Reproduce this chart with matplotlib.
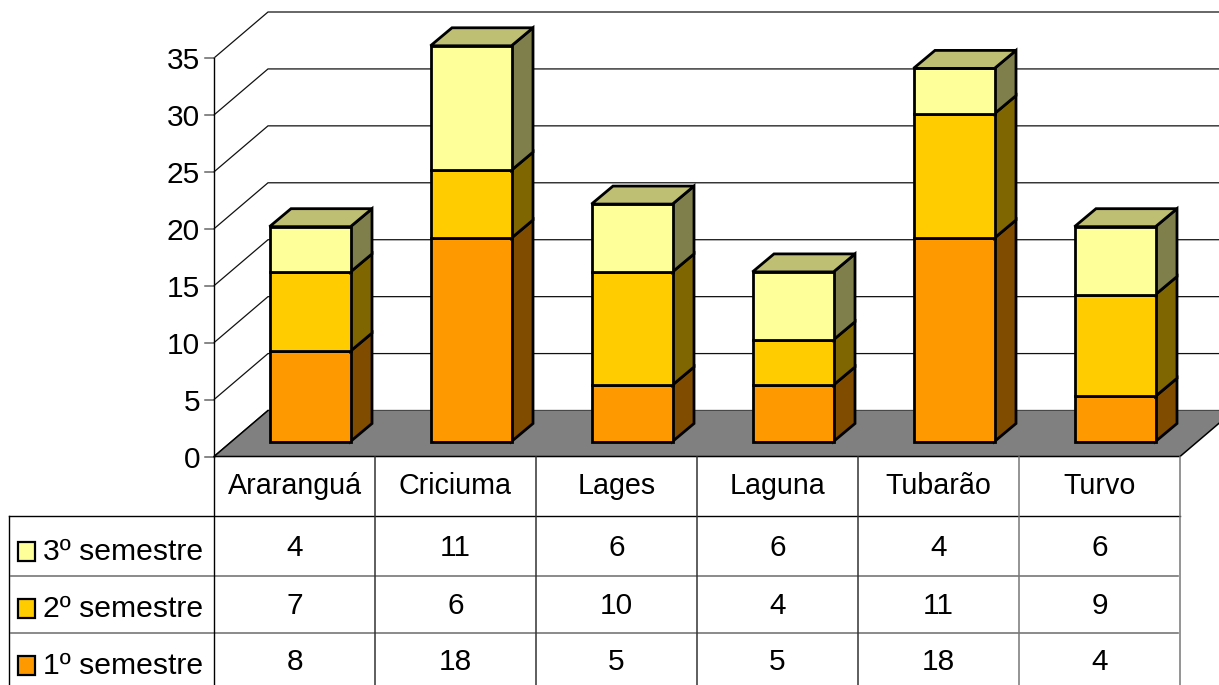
import matplotlib
matplotlib.use("Agg")
import matplotlib.pyplot as plt
from matplotlib.patches import Polygon, Rectangle

plt.rcParams['font.family'] = ['Liberation Sans', 'DejaVu Sans']

categories = ["Araranguá", "Criciuma", "Lages", "Laguna", "Tubarão", "Turvo"]
series_names = ["1º semestre", "2º semestre", "3º semestre"]
sem1 = [8, 18, 5, 5, 18, 4]
sem2 = [7, 6, 10, 4, 11, 9]
sem3 = [4, 11, 6, 6, 4, 6]
yticks = [0, 5, 10, 15, 20, 25, 30, 35]

W, H = 1219, 685
front = ["#FF9900", "#FFCC00", "#FFFF99"]
side = ["#7F4C00", "#7F6600", "#7F7F4C"]
top = ["#BF7300", "#BF9900", "#BFBF73"]

fig = plt.figure(figsize=(W / 100, H / 100), dpi=100, facecolor="white")
L, R, Y0, Y35 = 214, 1180, 456.5, 58
ax = fig.add_axes([L / W, 1 - Y0 / H, (R - L) / W, (Y0 - Y35) / H])
ax.set_xlim(0, 6)
ax.set_ylim(0, 35)
ax.axis("off")

CW = (R - L) / 6
UY = (Y0 - Y35) / 35
DX, DY = 54 / CW, 46 / UY            # full depth of the chart
BX, BY = 15.5 / CW, 15 / UY          # bar's front plane
BW = 81 / CW                         # bar width
BDX, BDY = 21.5 / CW, 18 / UY        # bar depth
BS = 0.993                           # slight vertical squeeze of the bars
XEND = 6 + 2 * DX

# grid + walls
for t in yticks:
    ax.plot([0, DX, XEND], [t, t + DY, t + DY], color="#111111", lw=0.9, clip_on=False, zorder=1,
            solid_joinstyle="miter")
    ax.plot([-9 / CW, 0], [t, t], color="#666666", lw=1.1, clip_on=False, zorder=1)
ax.add_patch(Polygon([(0, 0), (6, 0), (6 + DX, DY), (XEND, DY), (DX, DY)], closed=True,
                     facecolor="#808080", edgecolor="none", clip_on=False, zorder=2))
ax.plot([DX, 0, 6, 6 + DX], [DY, 0, 0, DY], color="black", lw=1.1, clip_on=False, zorder=3)
ax.plot([0, 0], [0, 35], color="black", lw=1.0, clip_on=False, zorder=3)

# stacked 3D bars
EC = dict(edgecolor="black", lw=2.0, joinstyle="miter", clip_on=False, zorder=5)
for i, vals in enumerate(zip(sem1, sem2, sem3)):
    x0 = i + (1 - BW) / 2 + BX
    x1 = x0 + BW
    base = 0
    for s, v in enumerate(vals):
        b, t = base * BS + BY, (base + v) * BS + BY
        ax.add_patch(Polygon([(x1, b), (x1 + BDX, b + BDY), (x1 + BDX, t + BDY), (x1, t)],
                             closed=True, facecolor=side[s], **EC))
        ax.add_patch(Rectangle((x0, b), BW, t - b, facecolor=front[s], **EC))
        base += v
    t = base * BS + BY
    ax.add_patch(Polygon([(x0, t), (x1, t), (x1 + BDX, t + BDY), (x0 + BDX, t + BDY)],
                         closed=True, facecolor=top[2], **EC))

for t in yticks:
    ax.text(-14 / CW, t, str(t), ha="right", va="center_baseline", fontsize=21.5, color="black",
            clip_on=False)

# data table in pixel space
ov = fig.add_axes([0, 0, 1, 1], facecolor="none")
ov.set_xlim(0, W)
ov.set_ylim(H, 0)
ov.axis("off")
ROWS = [516, 575.5, 633]
ov.plot([9, R], [ROWS[0], ROWS[0]], color="black", lw=1.0)
for y in ROWS[1:]:
    ov.plot([11, R - 2], [y, y], color="#777777", lw=1.2)
ov.plot([9, 9], [ROWS[0], H], color="black", lw=1.0)
ov.plot([L, L], [Y0, H], color="black", lw=1.0)
for k in range(1, 7):
    x = L + CW * k
    ov.plot([x, x], [Y0, H], color="#333333" if k < 5 else "#777777", lw=1.1)

for i, c in enumerate(categories):
    xc = L + CW * (i + 0.5)
    ov.text(xc, 483, c, ha="center", va="center_baseline", fontsize=20.6)
    ov.text(xc, 545, str(sem3[i]), ha="center", va="center_baseline", fontsize=21.5)
    ov.text(xc, 602.5, str(sem2[i]), ha="center", va="center_baseline", fontsize=21.5)
    ov.text(xc, 659, str(sem1[i]), ha="center", va="center_baseline", fontsize=21.5)

for name, col, yc in zip(series_names[::-1], front[::-1], [551.5, 608.5, 665.5]):
    ov.add_patch(Rectangle((18, yc - 9.5), 16.5, 19, facecolor=col, edgecolor="black", lw=1.6))
    ov.text(43, yc - 2.5, name, ha="left", va="center_baseline", fontsize=21.7)

fig.savefig("out.png", dpi=100)
